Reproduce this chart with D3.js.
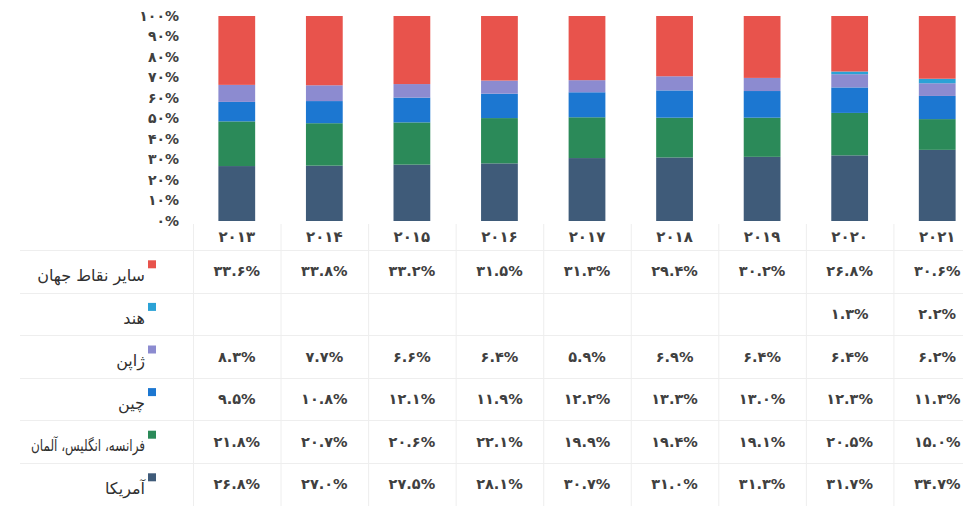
<!DOCTYPE html>
<html>
<head>
<meta charset="utf-8">
<script src="https://cdn.jsdelivr.net/npm/d3@7"></script>
<style>
  body { margin: 0; background: #fff; }
  svg text { font-family: "DejaVu Sans", sans-serif; }
</style>
</head>
<body>
<div id="chart"></div>
<script>
// years on the x axis
var years = ["2013", "2014", "2015", "2016", "2017", "2018", "2019", "2020", "2021"];

// series, bottom of the stack first
var seriesNames = ["آمریکا", "فرانسه، انگلیس، آلمان", "چین", "ژاپن", "هند", "سایر نقاط جهان"];
var seriesColors = ["#3f5b79", "#2b8a59", "#1c77d1", "#8c8bd0", "#2ba2d6", "#e8534c"];

var usa    = [26.8, 27.0, 27.5, 28.1, 30.7, 31.0, 31.3, 31.7, 34.7];
var europe = [21.8, 20.7, 20.6, 22.1, 19.9, 19.4, 19.1, 20.5, 15.0];
var china  = [9.5, 10.8, 12.1, 11.9, 12.2, 13.3, 13.0, 12.3, 11.3];
var japan  = [8.3, 7.7, 6.6, 6.4, 5.9, 6.9, 6.4, 6.4, 6.2];
var india  = [null, null, null, null, null, null, null, 1.3, 2.2];
var other  = [33.6, 33.8, 33.2, 31.5, 31.3, 29.4, 30.2, 26.8, 30.6];

var yTicks = [0, 0.1, 0.2, 0.3, 0.4, 0.5, 0.6, 0.7, 0.8, 0.9, 1];

var seriesValues = [usa, europe, china, japan, india, other];

var faDigits = "۰۱۲۳۴۵۶۷۸۹";
function fa( s ) {
    return String( s ).replace( /[0-9]/g, function( c ) { return faDigits[+c]; } );
}

var width = 963, height = 506;

var svg = d3.select( "#chart" ).append( "svg" )
    .attr( "width", width )
    .attr( "height", height );

// build rows for the stack
var rows = years.map( function( y, i ) {
    var r = { year: y };
    seriesNames.forEach( function( n, k ) { r[n] = seriesValues[k][i] || 0; } );
    return r;
});

var stack = d3.stack().keys( seriesNames ).offset( d3.stackOffsetExpand );
var layers = stack( rows );

// one table column per year
var x = d3.scaleBand().domain( years ).range( [ 193, 981 ] ).padding( 0 );
var y = d3.scaleLinear().domain( [ 0, 1 ] ).range( [ 221, 16 ] );
var barW = x.bandwidth() * 0.42;

var color = d3.scaleOrdinal().domain( seriesNames ).range( seriesColors );

// y axis labels
var yAxis = svg.append( "g" )
    .attr( "transform", "translate(179,0)" )
    .call( d3.axisLeft( y ).tickValues( yTicks ).tickSize( 0 ).tickPadding( 0 )
        .tickFormat( function( d ) { return fa( Math.round( d * 100 ) ) + "%"; } ) );
yAxis.select( ".domain" ).remove();
yAxis.selectAll( "text" )
    .style( "font-family", "DejaVu Sans" )
    .style( "font-size", "14px" )
    .style( "font-weight", "bold" )
    .style( "fill", "#404040" );

// bars
svg.selectAll( ".layer" )
    .data( layers )
    .enter().append( "g" )
    .attr( "class", "layer" )
    .attr( "fill", function( d ) { return color( d.key ); } )
    .selectAll( "rect" )
    .data( function( d ) { return d; } )
    .enter().append( "rect" )
    .attr( "x", function( d ) { return x( d.data.year ) + ( x.bandwidth() - barW ) / 2; } )
    .attr( "width", barW )
    .attr( "y", function( d ) { return y( d[1] ); } )
    .attr( "height", function( d ) { return y( d[0] ) - y( d[1] ); } );

// data table
var headTop = 224, headBottom = 250, rowH = 42.6;
var tableRows = seriesNames.slice().reverse();
var rowY = d3.scaleBand().domain( tableRows )
    .range( [ headBottom, headBottom + rowH * tableRows.length ] );

var grid = svg.append( "g" ).attr( "stroke", "#eeeeee" ).attr( "stroke-width", 1 );
// vertical lines between the columns
x.domain().concat( [ "end" ] ).forEach( function( yr, i ) {
    var xx = 193 + i * x.bandwidth();
    grid.append( "line" )
        .attr( "x1", xx + 0.5 ).attr( "x2", xx + 0.5 )
        .attr( "y1", headTop ).attr( "y2", height );
});
// horizontal lines under each row
[ headBottom ].concat( tableRows.map( function( n ) { return rowY( n ) + rowH; } ) ).forEach( function( yy ) {
    grid.append( "line" )
        .attr( "x1", 20 ).attr( "x2", width )
        .attr( "y1", Math.round( yy ) + 0.5 ).attr( "y2", Math.round( yy ) + 0.5 );
});

// year header
svg.selectAll( ".year" )
    .data( years )
    .enter().append( "text" )
    .attr( "class", "year" )
    .attr( "x", function( d ) { return x( d ) + x.bandwidth() / 2; } )
    .attr( "y", 237 )
    .attr( "dy", "0.35em" )
    .style( "text-anchor", "middle" )
    .style( "font-size", "15px" )
    .style( "font-weight", "bold" )
    .style( "fill", "#404040" )
    .text( function( d ) { return fa( d ); } );

// table cells
tableRows.forEach( function( name ) {
    var k = seriesNames.indexOf( name );
    var vals = seriesValues[k];
    var cy = rowY( name ) + rowH / 2;

    svg.append( "g" ).selectAll( "text" )
        .data( years.map( function( yr, i ) { return { year: yr, v: vals[i] }; } )
            .filter( function( d ) { return d.v != null; } ) )
        .enter().append( "text" )
        .attr( "x", function( d ) { return x( d.year ) + x.bandwidth() / 2; } )
        .attr( "y", cy )
        .attr( "dy", "0.35em" )
        .style( "text-anchor", "middle" )
        .style( "font-size", "14.5px" )
        .style( "font-weight", "bold" )
        .style( "fill", "#404040" )
        .text( function( d ) { return fa( d.v.toFixed( 1 ) ) + "%"; } );

    // legend key: label with a small square at its top right
    svg.append( "rect" )
        .attr( "x", 148 )
        .attr( "y", cy - 11 )
        .attr( "width", 8 )
        .attr( "height", 8 )
        .attr( "fill", color( name ) );

    var label = svg.append( "text" )
        .attr( "x", 145 )
        .attr( "y", cy + 4 )
        .attr( "dy", "0.35em" )
        .style( "text-anchor", "start" )
        .style( "direction", "rtl" )
        .style( "font-size", "16px" )
        .style( "fill", "#303030" )
        .text( name );
    // the long label is narrower in the original, squeeze it
    if( label.node().getComputedTextLength() > 114 ) {
        label.attr( "textLength", 114 ).attr( "lengthAdjust", "spacingAndGlyphs" );
    }
});
</script>
</body>
</html>
